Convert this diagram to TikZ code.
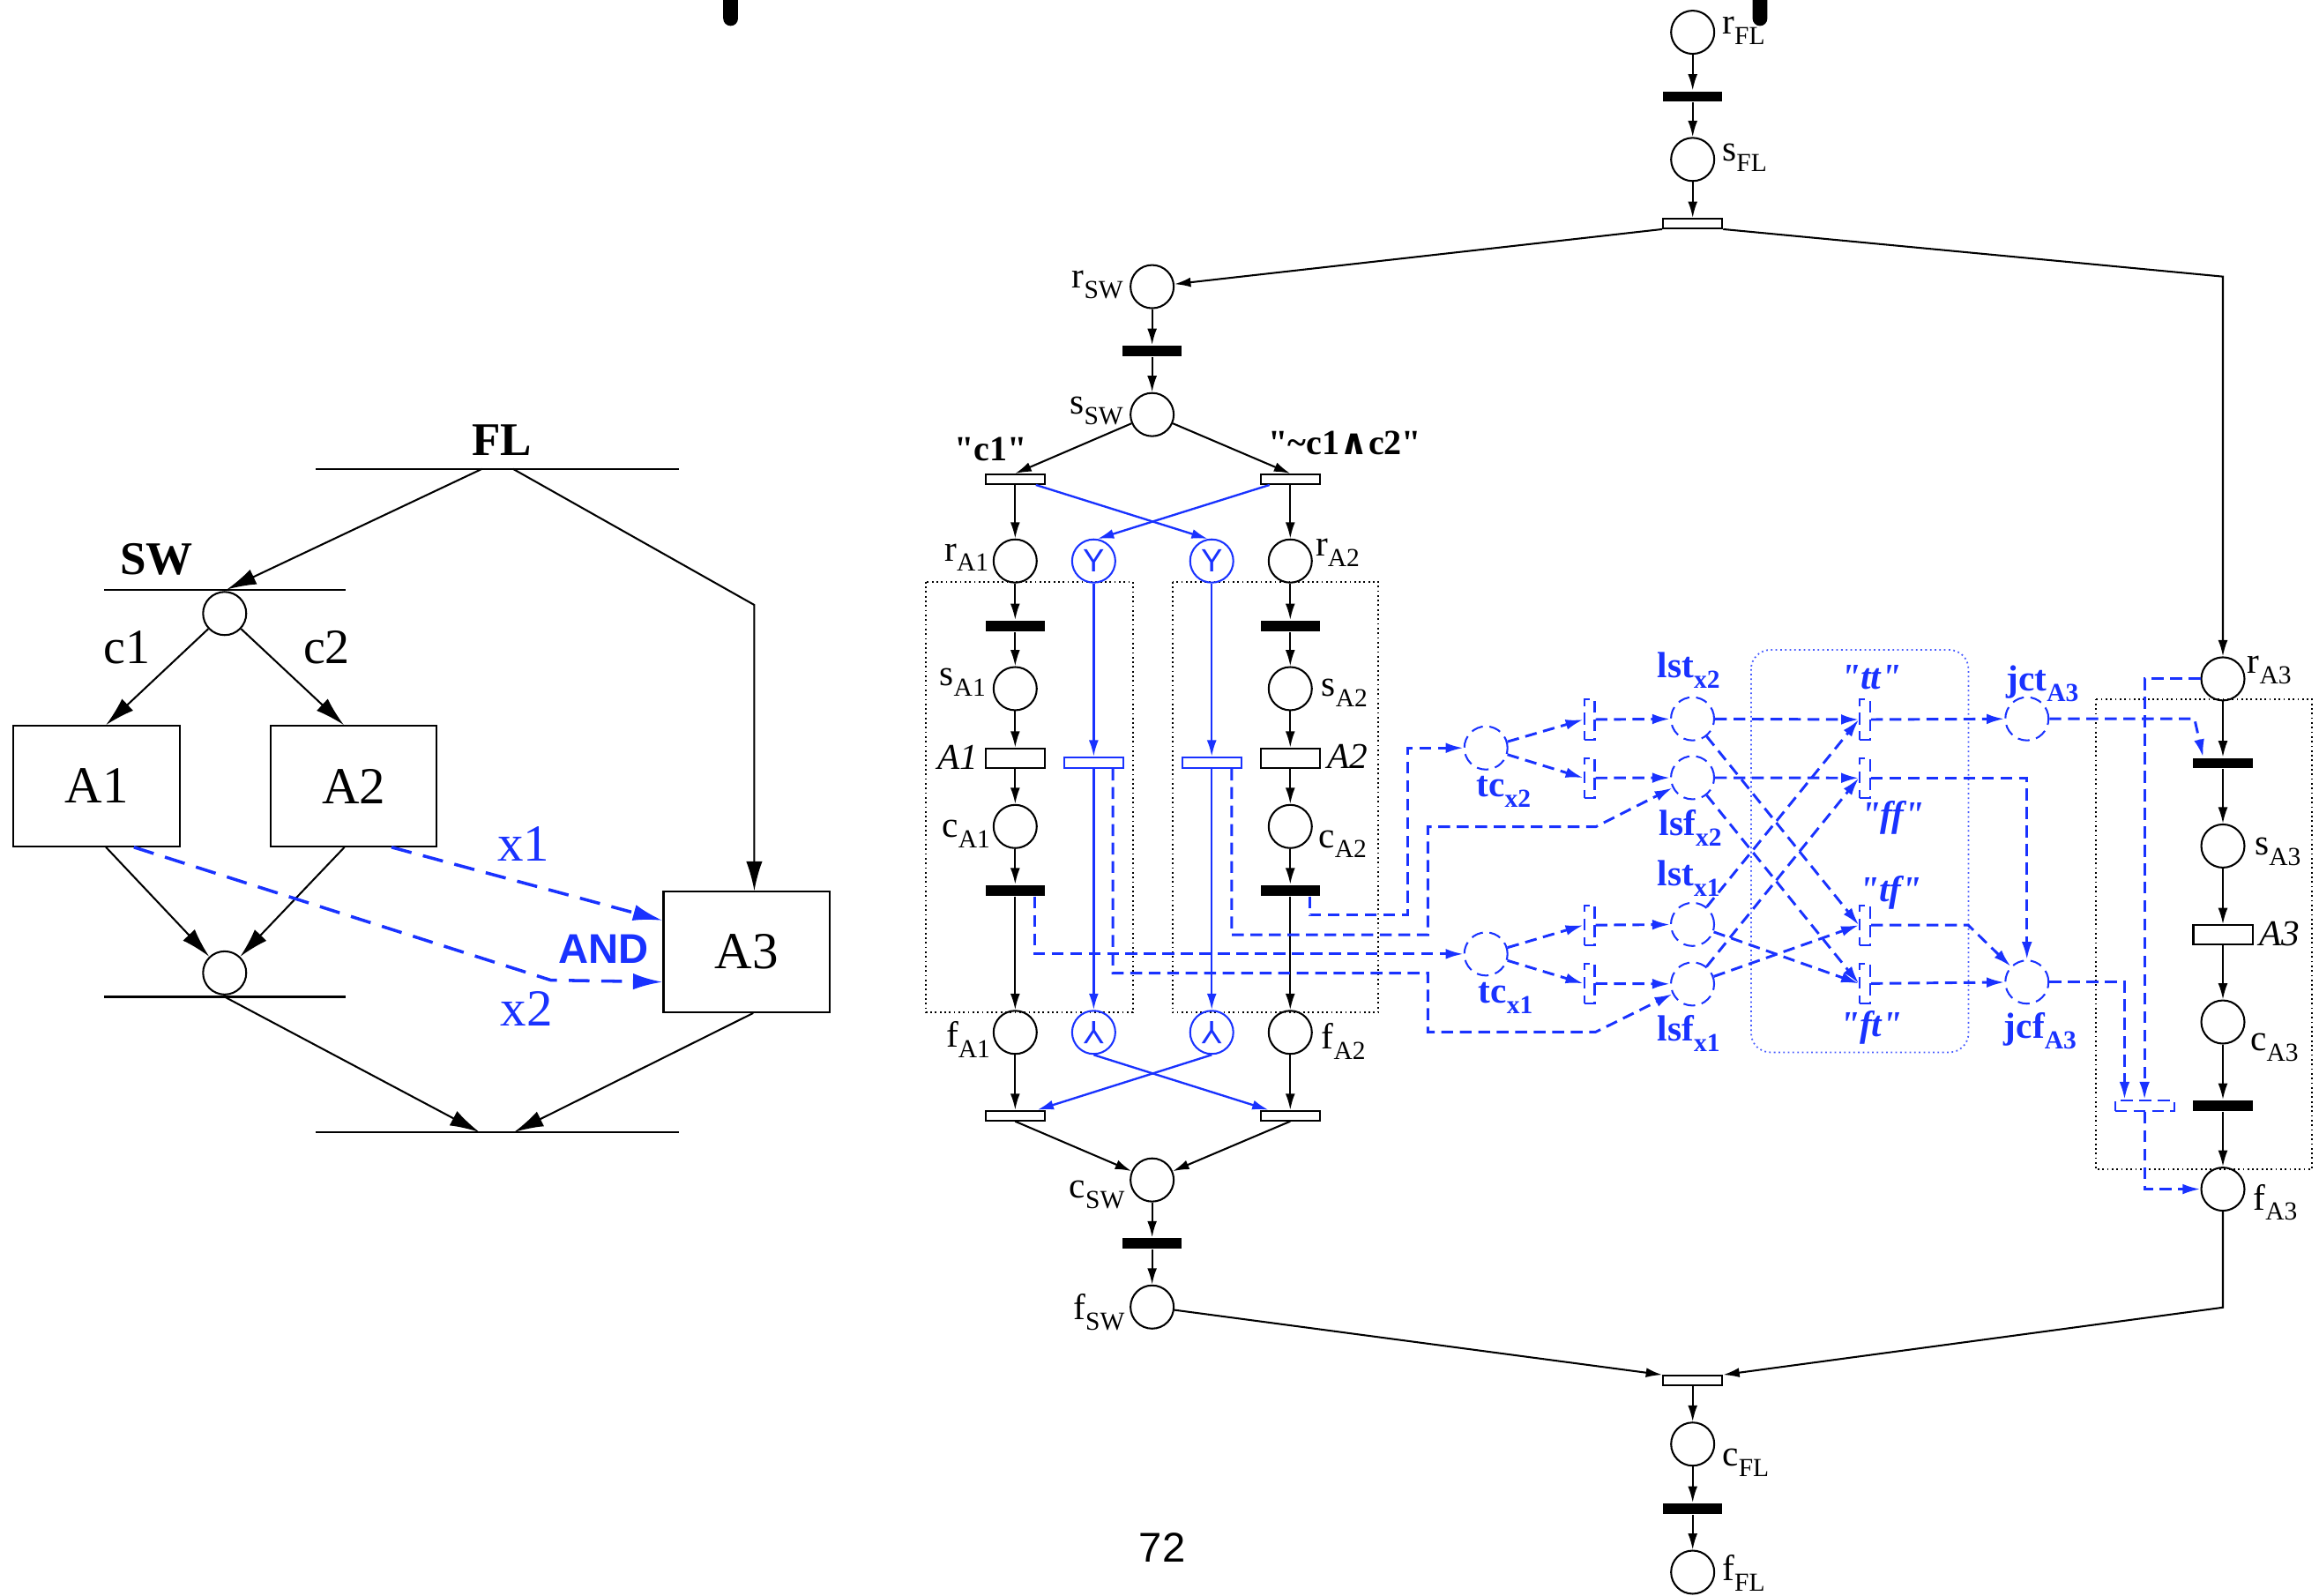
\documentclass[tikz,border=0pt]{standalone}
\usepackage{fontspec}
\usepackage{graphicx}
\setmainfont{Liberation Serif}[Ligatures=TeXOff]
\newfontfamily\helv{Liberation Sans}
\newfontfamily\dvs{DejaVu Serif}
\usetikzlibrary{arrows.meta}
\definecolor{netblue}{RGB}{25,50,255}
\newcommand\sub[1]{\raisebox{-2pt}{\fontsize{5}{5}\selectfont #1}}
\tikzset{%
  flow/.style={-{Latex[length=1.1mm,width=0.65mm]}},
  big flow/.style={-{Latex[length=2mm,width=1.1mm]}},
  bdash/.style={dash pattern=on 0.8mm off 0.45mm},
  wdash/.style={draw=netblue,line width=0.6pt,dash pattern=on 1.4mm off 0.8mm},
  place/.style={circle,draw,minimum size=2.92mm,inner sep=0pt},
  bplace/.style={place,draw=netblue,bdash},
  yplace/.style={place,draw=netblue,text=netblue,font=\helv\fontsize{6.2}{6}\selectfont},
  bar/.style={rectangle,fill=black,minimum width=4mm,minimum height=0.7mm,inner sep=0pt},
  trans/.style={rectangle,draw,fill=white,minimum width=4mm,minimum height=#1,inner sep=0pt},
  trans/.default=0.65mm,
  btrans/.style={trans=0.7mm,draw=netblue},
  vtrans/.style={rectangle,draw=netblue,bdash,minimum width=0.7mm,minimum height=2.7mm,inner sep=0pt},
  cluster/.style={draw,line width=0.3pt,dash pattern=on 0.3pt off 0.6pt},
  box/.style={rectangle,draw,minimum width=11.25mm,minimum height=8.14mm,inner sep=0pt,font=\fontsize{10}{12}\selectfont},
  head/.style={font=\bfseries\fontsize{9}{10}\selectfont,inner sep=0pt},
  cond/.style={font=\fontsize{9.5}{11}\selectfont,inner sep=0pt},
  xlab/.style={font=\fontsize{10}{12}\selectfont,text=netblue,inner sep=0pt},
  lab/.style={font=\fontsize{7}{8}\selectfont,inner sep=0pt},
  ilab/.style={font=\itshape\fontsize{7}{8}\selectfont,inner sep=0pt},
  glab/.style={font=\bfseries\fontsize{6.8}{8}\selectfont,inner sep=0pt},
  blab/.style={font=\bfseries\fontsize{7}{8}\selectfont,text=netblue,inner sep=0pt},
  qlab/.style={font=\bfseries\itshape\fontsize{7}{8}\selectfont,text=netblue,inner sep=0pt}
}

\begin{document}
\begin{tikzpicture}[x=1cm,y=-1cm,line width=0.35pt]
\useasboundingbox (0,0) rectangle (15.68,10.79);

% marks cut by the top edge
\begin{scope}
  \clip (0,0) rectangle (15.68,10.79);
  \fill[rounded corners=0.5mm] (4.89,-0.2) rectangle (4.99,0.175);
  \fill[rounded corners=0.5mm] (11.85,-0.2) rectangle (11.95,0.175);
\end{scope}

%% ---------------- workflow sketch ----------------
\coordinate (flL) at (2.135,3.17);
\coordinate (flR) at (4.589,3.17);
\coordinate (flA) at (3.26,3.17);
\coordinate (flB) at (3.468,3.17);
\coordinate (swL) at (0.704,3.986);
\coordinate (swR) at (2.336,3.986);
\coordinate (swA) at (1.533,3.986);
\coordinate (jnL) at (0.704,6.74);
\coordinate (jnR) at (2.336,6.74);
\coordinate (jnB) at (1.519,6.74);
\coordinate (btL) at (2.135,7.655);
\coordinate (btR) at (4.589,7.655);
\coordinate (btA) at (3.242,7.655);
\coordinate (btB) at (3.475,7.655);
\coordinate (kA3) at (5.10,4.09);
\coordinate (kx2) at (3.724,6.627);

\node[head] (lFL) at (3.395,2.974) {FL};
\node[head] (lSW) at (1.059,3.782) {SW};
\node[place] (swc) at (1.519,4.148) {};
\node[cond] (lc1) at (0.858,4.38) {c1};
\node[cond] (lc2) at (2.209,4.38) {c2};
\node[box] (bA1) at (0.6535,5.315) {A1};
\node[box] (bA2) at (2.391,5.315) {A2};
\node[box] (bA3) at (5.049,6.4365) {A3};
\node[place] (jnc) at (1.519,6.578) {};
\node[xlab] (lx1) at (3.54,5.706) {x1};
\node[xlab] (lx2) at (3.56,6.82) {x2};
\node[font=\helv\bfseries\fontsize{8}{9}\selectfont,text=netblue,inner sep=0pt] (lAND) at (4.082,6.416) {AND};

\draw (flL) -- (flR);
\draw (swL) -- (swR);
\draw (jnL) -- (jnR);
\draw (btL) -- (btR);
\draw[big flow] (flA) -- (swA);
\draw[big flow] (flB) -- (kA3) -- (kA3 |- bA3.north);
\draw[big flow] (swc) -- ([xshift=0.63mm]bA1.north);
\draw[big flow] (swc) -- ([xshift=-0.66mm]bA2.north);
\draw[big flow] ([xshift=0.63mm]bA1.south) -- (jnc);
\draw[big flow] ([xshift=-0.62mm]bA2.south) -- (jnc);
\draw[big flow] (jnB) -- (btA);
\draw[big flow] ([xshift=0.44mm]bA3.south) -- (btB);
\draw[big flow,wdash,-{Latex[length=2mm,width=1.1mm,fill=netblue]}] ([xshift=2.56mm]bA2.south) -- ([yshift=2.13mm]bA3.west);
\draw[big flow,wdash,-{Latex[length=2mm,width=1.1mm,fill=netblue]}] ([xshift=2.52mm]bA1.south) -- (kx2) -- ([yshift=-2.03mm]bA3.west);

%% ---------------- Petri net ----------------
% clusters
\draw[cluster] (6.261,3.934) rectangle (7.66,6.846);
\draw[cluster] (7.927,3.934) rectangle (9.32,6.846);
\draw[cluster] (14.17,4.726) rectangle (15.63,7.907);
\draw[cluster,draw=netblue!80,rounded corners=1.3mm] (11.84,4.394) rectangle (13.31,7.115);

% FL
\node[place] (rFL) at (11.445,0.218) {};
\node[bar] (bFL) at (11.445,0.652) {};
\node[place] (sFL) at (11.445,1.078) {};
\node[trans] (tFL) at (11.445,1.511) {};
\coordinate (kFLr) at (15.03,1.87);
\node[trans] (tFLb) at (11.445,9.334) {};
\node[place] (cFL) at (11.445,9.764) {};
\node[bar] (bFL2) at (11.445,10.2) {};
\node[place] (fFL) at (11.445,10.63) {};
\coordinate (kFLb) at (15.03,8.84);

% SW
\node[place] (rSW) at (7.79,1.938) {};
\node[bar] (bSW) at (7.79,2.373) {};
\node[place] (sSW) at (7.79,2.803) {};
\node[trans] (tSWl) at (6.864,3.24) {};
\node[trans] (tSWr) at (8.724,3.24) {};
\node[place] (cSW) at (7.79,7.978) {};
\node[bar] (bSW2) at (7.79,8.407) {};
\node[place] (fSW) at (7.79,8.837) {};

% A1
\node[place] (rA1) at (6.864,3.793) {};
\node[bar] (bA1a) at (6.864,4.232) {};
\node[place] (sA1) at (6.864,4.656) {};
\node[trans=1.3mm] (tA1) at (6.864,5.125) {};
\node[place] (cA1) at (6.864,5.588) {};
\node[bar] (bA1b) at (6.864,6.02) {};
\node[place] (fA1) at (6.864,6.98) {};
\node[trans] (tA1f) at (6.864,7.543) {};

% A2
\node[place] (rA2) at (8.724,3.793) {};
\node[bar] (bA2a) at (8.724,4.232) {};
\node[place] (sA2) at (8.724,4.656) {};
\node[trans=1.3mm] (tA2) at (8.724,5.125) {};
\node[place] (cA2) at (8.724,5.588) {};
\node[bar] (bA2b) at (8.724,6.02) {};
\node[place] (fA2) at (8.724,6.98) {};
\node[trans] (tA2f) at (8.724,7.543) {};

% skips
\node[yplace] (skA1) at (7.395,3.793) {Y};
\node[btrans] (tskA1) at (7.395,5.156) {};
\node[yplace] (jnA1) at (7.395,6.98) {\rotatebox{180}{Y}};
\node[yplace] (skA2) at (8.193,3.793) {Y};
\node[btrans] (tskA2) at (8.193,5.156) {};
\node[yplace] (jnA2) at (8.193,6.98) {\rotatebox{180}{Y}};

% A3
\node[place] (rA3) at (15.03,4.59) {};
\node[bar] (bA3a) at (15.03,5.16) {};
\node[place] (sA3) at (15.03,5.72) {};
\node[trans=1.3mm] (tA3) at (15.03,6.32) {};
\node[place] (cA3) at (15.03,6.91) {};
\node[bar] (bA3b) at (15.03,7.476) {};
\node[place] (fA3) at (15.03,8.04) {};
\node[btrans,bdash] (tbA3) at (14.50,7.475) {};

% AND join net
\node[bplace] (tcx2) at (10.047,5.057) {};
\node[bplace] (tcx1) at (10.047,6.45) {};
\node[vtrans] (tx2a) at (10.747,4.865) {};
\node[vtrans] (tx2b) at (10.747,5.26) {};
\node[vtrans] (tx1a) at (10.747,6.255) {};
\node[vtrans] (tx1b) at (10.747,6.65) {};
\node[bplace] (lstx2) at (11.444,4.86) {};
\node[bplace] (lsfx2) at (11.444,5.258) {};
\node[bplace] (lstx1) at (11.444,6.25) {};
\node[bplace] (lsfx1) at (11.444,6.653) {};
\node[vtrans] (ttt) at (12.61,4.865) {};
\node[vtrans] (tff) at (12.61,5.26) {};
\node[vtrans] (ttf) at (12.61,6.255) {};
\node[vtrans] (tft) at (12.61,6.65) {};
\node[bplace] (jct) at (13.705,4.86) {};
\node[bplace] (jcf) at (13.705,6.64) {};
\coordinate (kTF) at (13.308,6.255);
\coordinate (kJ) at (14.838,4.86);
\coordinate (k1b) at (9.655,6.58);
\coordinate (k1d) at (10.79,6.977);
\coordinate (k2b) at (9.52,6.187);
\coordinate (k3b) at (9.655,6.32);
\coordinate (k3d) at (10.79,5.59);

% labels
\node[lab,anchor=west] (lrFL) at (11.64,0.206) {r\sub{FL}};
\node[lab,anchor=west] (lsFL) at (11.64,1.068) {s\sub{FL}};
\node[lab,anchor=east] (lrSW) at (7.60,1.925) {r\sub{SW}};
\node[lab,anchor=east] (lsSW) at (7.60,2.78) {s\sub{SW}};
\node[glab] (lgc1) at (6.70,3.04) {"c1"};
\node[glab] (lgc2) at (9.094,2.995) {"\textasciitilde c1{\dvs ∧}c2"};
\node[lab,anchor=east] (lrA1) at (6.69,3.77) {r\sub{A1}};
\node[lab,anchor=west] (lrA2) at (8.89,3.738) {r\sub{A2}};
\node[lab,anchor=east] (lsA1) at (6.67,4.615) {s\sub{A1}};
\node[lab,anchor=west] (lsA2) at (8.93,4.683) {s\sub{A2}};
\node[ilab,anchor=east] (ltA1) at (6.62,5.122) {A1};
\node[ilab,anchor=west] (ltA2) at (8.97,5.116) {A2};
\node[lab,anchor=east] (lcA1) at (6.70,5.64) {c\sub{A1}};
\node[lab,anchor=west] (lcA2) at (8.91,5.707) {c\sub{A2}};
\node[lab,anchor=east] (lfA1) at (6.70,7.03) {f\sub{A1}};
\node[lab,anchor=west] (lfA2) at (8.93,7.04) {f\sub{A2}};
\node[lab,anchor=east] (lcSW) at (7.61,8.08) {c\sub{SW}};
\node[lab,anchor=east] (lfSW) at (7.61,8.87) {f\sub{SW}};
\node[lab,anchor=west] (lcFL) at (11.64,9.89) {c\sub{FL}};
\node[lab,anchor=west] (lfFL) at (11.64,10.635) {f\sub{FL}};
\node[lab,anchor=west] (lrA3) at (15.19,4.53) {r\sub{A3}};
\node[lab,anchor=west] (lsA3) at (15.24,5.76) {s\sub{A3}};
\node[ilab,anchor=west] (ltA3) at (15.27,6.315) {A3};
\node[lab,anchor=west] (lcA3) at (15.21,7.08) {c\sub{A3}};
\node[lab,anchor=west] (lfA3) at (15.23,8.13) {f\sub{A3}};
\node[blab] (llstx2) at (11.418,4.53) {lst\sub{x2}};
\node[blab] (llsfx2) at (11.43,5.596) {lsf\sub{x2}};
\node[blab] (llstx1) at (11.418,5.94) {lst\sub{x1}};
\node[blab] (llsfx1) at (11.418,6.987) {lsf\sub{x1}};
\node[blab] (ltcx2) at (10.167,5.355) {tc\sub{x2}};
\node[blab] (ltcx1) at (10.18,6.747) {tc\sub{x1}};
\node[qlab] (lqtt) at (12.65,4.58) {"tt"};
\node[qlab] (lqff) at (12.796,5.53) {"ff"};
\node[qlab] (lqtf) at (12.78,6.035) {"tf"};
\node[qlab] (lqft) at (12.65,6.946) {"ft"};
\node[blab] (ljct) at (13.81,4.62) {jct\sub{A3}};
\node[blab] (ljcf) at (13.795,6.97) {jcf\sub{A3}};
\node[font=\helv\fontsize{8}{9}\selectfont,inner sep=0pt] (lpage) at (7.859,10.465) {72};

% FL arcs
\draw[flow] (rFL) -- (bFL);
\draw[flow] (bFL) -- (sFL);
\draw[flow] (sFL) -- (tFL);
\draw[flow] (tFL.south west) -- (rSW);
\draw[flow] (tFL.south east) -- (kFLr) -- (rA3);
\draw[flow] (fSW) -- (tFLb.north west);
\draw[flow] (fA3) -- (kFLb) -- (tFLb.north east);
\draw[flow] (tFLb) -- (cFL);
\draw[flow] (cFL) -- (bFL2);
\draw[flow] (bFL2) -- (fFL);

% SW arcs
\draw[flow] (rSW) -- (bSW);
\draw[flow] (bSW) -- (sSW);
\draw[flow] (sSW) -- (tSWl.north);
\draw[flow] (sSW) -- (tSWr.north);
\draw[flow] (tSWl) -- (rA1);
\draw[flow] (tSWr) -- (rA2);
\draw[flow] (tA1f.south) -- (cSW);
\draw[flow] (tA2f.south) -- (cSW);
\draw[flow] (cSW) -- (bSW2);
\draw[flow] (bSW2) -- (fSW);

% A1 / A2 / A3 arcs
\draw[flow] (rA1) -- (bA1a);
\draw[flow] (bA1a) -- (sA1);
\draw[flow] (sA1) -- (tA1);
\draw[flow] (tA1) -- (cA1);
\draw[flow] (cA1) -- (bA1b);
\draw[flow] (bA1b) -- (fA1);
\draw[flow] (fA1) -- (tA1f);
\draw[flow] (rA2) -- (bA2a);
\draw[flow] (bA2a) -- (sA2);
\draw[flow] (sA2) -- (tA2);
\draw[flow] (tA2) -- (cA2);
\draw[flow] (cA2) -- (bA2b);
\draw[flow] (bA2b) -- (fA2);
\draw[flow] (fA2) -- (tA2f);
\draw[flow] (rA3) -- (bA3a);
\draw[flow] (bA3a) -- (sA3);
\draw[flow] (sA3) -- (tA3);
\draw[flow] (tA3) -- (cA3);
\draw[flow] (cA3) -- (bA3b);
\draw[flow] (bA3b) -- (fA3);

% skip arcs
\begin{scope}[draw=netblue,line width=0.4pt,-{Latex[length=1.1mm,width=0.65mm,fill=netblue]}]
  \draw ([xshift=1.4mm]tSWl.south) -- (skA2.100);
  \draw ([xshift=-1.4mm]tSWr.south) -- (skA1.80);
  \draw (skA1) -- (tskA1);
  \draw (tskA1) -- (jnA1);
  \draw (skA2) -- (tskA2);
  \draw (tskA2) -- (jnA2);
  \draw (jnA1.south) -- ([xshift=-1.47mm]tA2f.north);
  \draw (jnA2.south) -- ([xshift=1.5mm]tA1f.north);
\end{scope}

% AND join arcs
\begin{scope}[draw=netblue,line width=0.5pt,bdash,-{Latex[length=1.2mm,width=0.7mm,fill=netblue]}]
  \draw ([xshift=1.35mm]bA1b.south) |- (tcx1);
  \draw ([xshift=1.3mm]tskA1.south) |- (k1b) |- (k1d) -- (lsfx1);
  \draw ([xshift=1.3mm]bA2b.south) |- (k2b) |- (tcx2);
  \draw ([xshift=1.35mm]tskA2.south) |- (k3b) |- (k3d) -- (lsfx2);
  \draw (tcx2) -- (tx2a.west);
  \draw (tcx2) -- (tx2b.west);
  \draw (tcx1) -- (tx1a.west);
  \draw (tcx1) -- (tx1b.west);
  \draw (tx2a) -- (lstx2);
  \draw (tx2b) -- (lsfx2);
  \draw (tx1a) -- (lstx1);
  \draw (tx1b) -- (lsfx1);
  \draw (lstx2) -- (ttt.west);
  \draw (lstx2) -- (ttf.west);
  \draw (lsfx2) -- (tff.west);
  \draw (lsfx2) -- (tft.west);
  \draw (lstx1) -- (ttt.west);
  \draw (lstx1) -- (tft.west);
  \draw (lsfx1) -- (tff.west);
  \draw (lsfx1) -- (ttf.west);
  \draw (ttt) -- (jct);
  \draw (tff) -| (jcf);
  \draw (ttf) -- (kTF) -- (jcf);
  \draw (tft) -- (jcf);
  \draw (jct) -- (kJ) -- ([xshift=-1.34mm]bA3a.north);
  \draw (rA3) -| (tbA3.north);
  \draw (jcf) -| ([xshift=-1.35mm]tbA3.north);
  \draw (tbA3.south) |- (fA3);
\end{scope}

\end{tikzpicture}
\end{document}
